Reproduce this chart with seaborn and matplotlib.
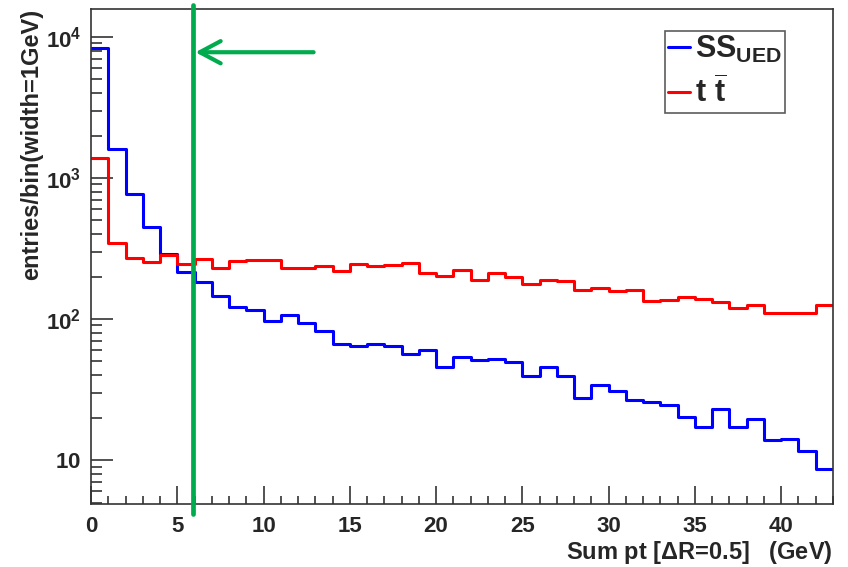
import numpy as np
import pandas as pd
import matplotlib
matplotlib.use("Agg")
import matplotlib.pyplot as plt
import seaborn as sns
from matplotlib.ticker import FixedLocator, FixedFormatter, MultipleLocator, LogLocator, NullFormatter

sns.set_style("ticks")
plt.rcParams["font.family"] = ["Liberation Sans", "DejaVu Sans"]
plt.rcParams["font.weight"] = "bold"
plt.rcParams["mathtext.fontset"] = "custom"
plt.rcParams["mathtext.rm"] = "Liberation Sans:bold"
plt.rcParams["mathtext.bf"] = "Liberation Sans:bold"
plt.rcParams["mathtext.it"] = "Liberation Sans:bold"

# Sum pt in 1 GeV bins, 0-43 GeV
bin_edges = list(range(0, 44))

ss_ued = [8360, 1607, 770, 449, 289, 215, 183, 146, 122, 116,
          97, 107, 94, 82, 66.6, 64, 66, 64, 56.5, 60,
          45.7, 53.5, 51, 52.5, 49.5, 39.4, 45.9, 39.4, 27.7, 33.9,
          30.9, 26.5, 25.8, 24.4, 20.3, 17.1, 22.9, 17.2, 19.5, 13.8,
          14.1, 11.6, 8.6]

ttbar = [1387, 346, 271, 253, 285, 247, 268, 230, 257, 262,
         262, 230, 230, 237, 220, 247, 237, 243, 248, 212,
         203, 221, 189, 211, 198, 178, 189, 185, 162, 166,
         159, 162, 134, 136, 143, 139, 132, 120, 125, 110,
         110, 110, 125]

series_labels = [r"$\mathbf{SS_{UED}}$", r"$\mathbf{t\ \overline{t}}$"]
series_colors = ["#0000ff", "#ff0000"]

cut_value = 5.9
arrow_from, arrow_to, arrow_y = 12.9, 6.05, 7800

y_ticks = [10, 100, 1000, 10000]
y_tick_labels = [r"$\mathbf{10}$", r"$\mathbf{10^{2}}$", r"$\mathbf{10^{3}}$", r"$\mathbf{10^{4}}$"]

centers = np.array(bin_edges[:-1]) + 0.5
df = pd.DataFrame({
    "sumpt": np.concatenate([centers, centers]),
    "entries": np.concatenate([ss_ued, ttbar]),
    "sample": ["SS"] * len(centers) + ["tt"] * len(centers),
})

fig = plt.figure(figsize=(8.48, 5.67), dpi=100)
ax = fig.add_axes([91 / 848, 1 - 504 / 567, (833 - 91) / 848, (504 - 9) / 567])

for name, lab, col in zip(["SS", "tt"], series_labels, series_colors):
    sub = df[df["sample"] == name]
    sns.histplot(data=sub, x="sumpt", weights="entries", bins=bin_edges,
                 element="step", fill=False, color=col, linewidth=2.2,
                 label=lab, ax=ax)

ax.set_yscale("log")
ax.set_xlim(0, 43)
ax.set_ylim(4.88, 15800)

# selection cut and arrow
ax.plot([cut_value, cut_value], [-0.02, 1.008], color="#00ab4e", lw=3.4,
        transform=ax.get_xaxis_transform(), clip_on=False, zorder=5)
ax.annotate("", xy=(arrow_to, arrow_y), xytext=(arrow_from, arrow_y),
            arrowprops=dict(arrowstyle="->,head_length=0.75,head_width=0.4",
                            color="#00ab4e", lw=3.0, mutation_scale=20,
                            shrinkA=0, shrinkB=0), zorder=5)

# ticks
ax.xaxis.set_major_locator(MultipleLocator(5))
ax.xaxis.set_minor_locator(MultipleLocator(1))
ax.yaxis.set_major_locator(FixedLocator(y_ticks))
ax.yaxis.set_major_formatter(FixedFormatter(y_tick_labels))
ax.yaxis.set_minor_locator(LogLocator(base=10, subs=np.arange(2, 10)))
ax.yaxis.set_minor_formatter(NullFormatter())
ax.tick_params(axis="both", which="both", direction="in", color="#333333", width=1.2)
ax.tick_params(axis="x", which="major", length=13, labelsize=16, pad=9)
ax.tick_params(axis="x", which="minor", length=6)
ax.tick_params(axis="y", which="major", length=16, labelsize=16, pad=7)
ax.tick_params(axis="y", which="minor", length=8)
for sp in ax.spines.values():
    sp.set_visible(True)
    sp.set_color("#333333")
    sp.set_linewidth(1.2)

ax.set_xlabel(r"Sum pt [$\mathbf{\Delta}$R=0.5]   (GeV)", fontsize=17,
              fontweight="bold", loc="right", labelpad=1)
ax.set_ylabel("entries/bin(width=1GeV)", fontsize=17, fontweight="bold",
              loc="top", labelpad=2)

leg = ax.legend(loc="upper left", bbox_to_anchor=(665 / 848, 1 - 31 / 567),
                bbox_transform=fig.transFigure, frameon=True, fancybox=False,
                edgecolor="#333333", fontsize=22, handlelength=0.72,
                handletextpad=0.15, borderpad=0.1, labelspacing=0.38,
                borderaxespad=0)
leg.get_frame().set_linewidth(1.2)
for line in leg.get_lines():
    line.set_linewidth(2.2)

fig.savefig("out.png", dpi=100)
